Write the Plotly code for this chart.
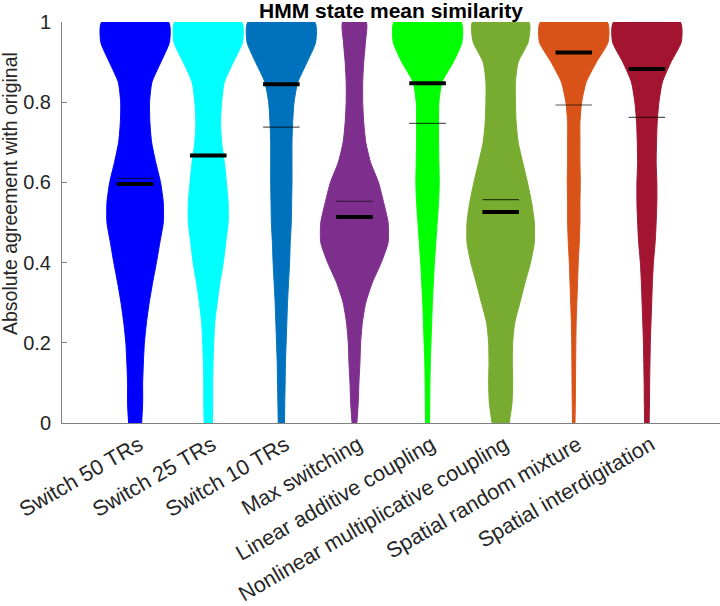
import plotly.graph_objects as go

# ---------------------------------------------------
# DATA
# ---------------------------------------------------

categories = ["Switch 50 TRs", "Switch 25 TRs", "Switch 10 TRs", "Max switching",
              "Linear additive coupling", "Nonlinear multiplicative coupling",
              "Spatial random mixture", "Spatial interdigitation"]

colors = ["#0000FF", "#00FFFF", "#0072BD", "#7E2F8E",
          "#00FF00", "#77AC30", "#D95319", "#A2142F"]

# y levels where the violin half-width (relative to widest point) was read
levels = [0.00, 0.05, 0.10, 0.15, 0.20, 0.25, 0.30, 0.35, 0.40, 0.45, 0.50,
          0.55, 0.60, 0.65, 0.70, 0.75, 0.80, 0.85, 0.90, 0.95, 1.00]

switch50 = [0.19, 0.22, 0.22, 0.24, 0.27, 0.33, 0.41, 0.51, 0.62, 0.72, 0.82,
            0.82, 0.74, 0.60, 0.48, 0.43, 0.42, 0.49, 0.75, 1.00, 0.97]
switch25 = [0.12, 0.13, 0.13, 0.14, 0.16, 0.19, 0.26, 0.34, 0.44, 0.51, 0.58,
            0.58, 0.53, 0.47, 0.39, 0.36, 0.39, 0.47, 0.73, 1.00, 0.97]
switch10 = [0.09, 0.10, 0.11, 0.12, 0.14, 0.16, 0.18, 0.21, 0.24, 0.26, 0.29,
            0.30, 0.31, 0.31, 0.31, 0.33, 0.37, 0.48, 0.75, 1.00, 0.97]
max_switch = [0.07, 0.11, 0.13, 0.16, 0.18, 0.23, 0.33, 0.52, 0.78, 0.98, 0.98,
              0.85, 0.70, 0.47, 0.33, 0.27, 0.24, 0.24, 0.27, 0.32, 0.34]
lin_add = [0.055, 0.065, 0.07, 0.08, 0.10, 0.12, 0.14, 0.17, 0.20, 0.24, 0.28,
           0.32, 0.34, 0.33, 0.32, 0.32, 0.33, 0.42, 0.75, 1.00, 0.97]
nonlin_mult = [0.25, 0.33, 0.35, 0.34, 0.35, 0.41, 0.56, 0.71, 0.87, 0.98, 0.98,
               0.90, 0.78, 0.64, 0.51, 0.45, 0.43, 0.43, 0.51, 0.80, 0.82]
spat_mix = [0.035, 0.045, 0.05, 0.055, 0.06, 0.07, 0.09, 0.11, 0.13, 0.16, 0.18,
            0.18, 0.19, 0.18, 0.18, 0.18, 0.23, 0.36, 0.66, 1.00, 0.97]
spat_inter = [0.065, 0.075, 0.08, 0.09, 0.10, 0.12, 0.14, 0.16, 0.19, 0.24, 0.27,
              0.29, 0.29, 0.27, 0.28, 0.30, 0.35, 0.45, 0.70, 1.00, 0.97]

widths = [switch50, switch25, switch10, max_switch,
          lin_add, nonlin_mult, spat_mix, spat_inter]

medians = [0.596, 0.667, 0.845, 0.514, 0.847, 0.526, 0.924, 0.883]
means = [0.610, 0.667, 0.738, 0.553, 0.747, 0.557, 0.793, 0.762]

# ---------------------------------------------------
# FIGURE
# ---------------------------------------------------

FONT = "Liberation Sans, Arial, Helvetica, sans-serif"
HALF = 0.47   # widest half-width, in category units
BAR = 0.25    # half-length of the median / mean bars

fig = go.Figure()

for i, w in enumerate(widths):
    pos = i + 1
    xs = [pos + v * HALF for v in w] + [pos - v * HALF for v in reversed(w)]
    ys = levels + list(reversed(levels))
    fig.add_trace(go.Scatter(
        x=xs, y=ys, mode="lines", fill="toself",
        fillcolor=colors[i],
        line=dict(color=colors[i], width=1, shape="spline", smoothing=0.6),
        hoverinfo="skip",
    ))

for i in range(len(categories)):
    pos = i + 1
    # mean: thin line
    fig.add_trace(go.Scatter(
        x=[pos - BAR, pos + BAR], y=[means[i], means[i]], mode="lines",
        line=dict(color="rgba(0,0,0,0.65)", width=1.2), hoverinfo="skip",
    ))
    # median: thick line
    fig.add_trace(go.Scatter(
        x=[pos - BAR, pos + BAR], y=[medians[i], medians[i]], mode="lines",
        line=dict(color="black", width=4), hoverinfo="skip",
    ))

fig.update_layout(
    width=720, height=606,
    margin=dict(l=62, r=0, t=22, b=178),
    plot_bgcolor="white", paper_bgcolor="white",
    showlegend=False,
    font=dict(family=FONT, color="#262626", size=20),
    title=dict(text="<b>HMM state mean similarity</b>",
               x=0.5, xref="paper", xanchor="center",
               y=0.982, yref="container", yanchor="middle",
               font=dict(family=FONT, size=21, color="black")),
    annotations=[dict(text="Absolute agreement with original",
                      textangle=-90, showarrow=False,
                      xref="paper", yref="paper",
                      x=-0.079, y=0.571, xanchor="center", yanchor="middle",
                      font=dict(family=FONT, size=19.5, color="#262626"))],
)

fig.update_xaxes(
    range=[0, 9], tickvals=list(range(1, 9)), ticktext=categories,
    tickangle=-30, ticklabelshift=4, showline=True, linecolor="#808080",
    linewidth=1, ticks="", showgrid=False, zeroline=False,
    tickfont=dict(family=FONT, size=21.5, color="#262626"),
)

fig.update_yaxes(
    range=[0, 1], tickvals=[0, 0.2, 0.4, 0.6, 0.8, 1],
    ticktext=["0", "0.2", "0.4", "0.6", "0.8", "1"],
    showline=True, linecolor="#808080", linewidth=1,
    ticks="inside", ticklen=5, tickcolor="#808080", ticklabelstandoff=6,
    showgrid=False, zeroline=False,
    tickfont=dict(family=FONT, size=20, color="#262626"),
)

# the page body has a default 8px margin; drop it so the figure sits at 0,0
fig.write_html("out.html", config={"displayModeBar": False},
               post_script="document.body.style.margin='0';")
